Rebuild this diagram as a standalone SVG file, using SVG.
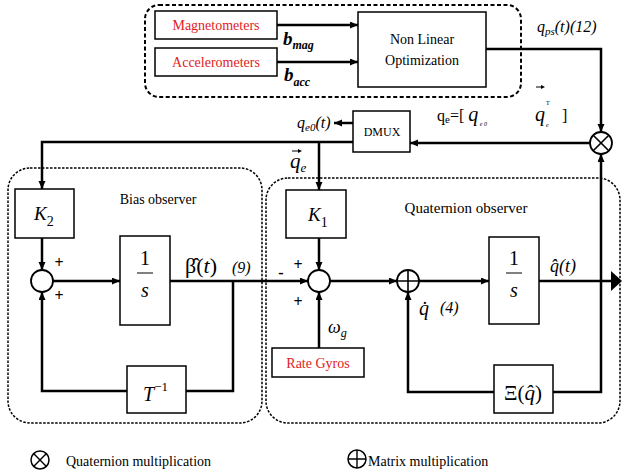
<svg xmlns="http://www.w3.org/2000/svg" width="622" height="475" viewBox="0 0 622 475" font-family="'Liberation Serif', 'DejaVu Serif', 'Noto Serif', serif">
<defs>
<marker id="ah" markerUnits="userSpaceOnUse" markerWidth="9" markerHeight="8" refX="8" refY="3.5" orient="auto">
<path d="M0,0 L8,3.5 L0,7 z" fill="#000"/>
</marker>
</defs>
<style>
.box{fill:#fff;stroke:#000;stroke-width:1.5}
.dash1{fill:none;stroke:#000;stroke-width:2;stroke-dasharray:4 2.5}
.dash2{fill:none;stroke:#000;stroke-width:1.5;stroke-dasharray:2.5 1.5}
.wire{fill:none;stroke:#000;stroke-width:2.5}
.arr{marker-end:url(#ah)}
.circ{fill:#fff;stroke:#000;stroke-width:1.8}
text{font-family:'Liberation Serif','DejaVu Serif','Noto Serif',serif;fill:#000}
.red{fill:#e31b23;font-size:14px}
.lbl{font-size:14px}
.it{font-style:italic}
.mid{text-anchor:middle}
.sgn{font-size:16px;font-weight:bold;text-anchor:middle}
</style>

<g id="containers">
<rect class="dash1" x="145" y="5" width="376" height="92" rx="14"/>
<rect class="dash2" x="8" y="168" width="254" height="255" rx="22"/>
<rect class="dash2" x="266" y="178" width="354" height="245" rx="22"/>
<text class="lbl mid" x="158" y="204">Bias  observer</text>
<text class="lbl mid" x="466" y="213" style="font-size:15px">Quaternion observer</text>
</g>

<g id="connectors">
<path class="wire arr" d="M277 25 H358"/>
<path class="wire arr" d="M277 62 H358"/>
<path class="wire arr" d="M486 49 H601 V132"/>
<path class="wire arr" d="M590 143 H410"/>
<path class="wire arr" d="M353 123 H334"/>
<path class="wire arr" d="M353 142 H42 V189"/>
<path class="wire arr" d="M319 142 V190"/>
<path class="wire arr" d="M42 238 V270"/>
<path class="wire arr" d="M53 281 H120"/>
<path class="wire arr" d="M170 281 H308"/>
<path class="wire" d="M233 281 V391 H186"/>
<path class="wire arr" d="M127 391 H42 V292"/>
<path class="wire arr" d="M319 238 V270"/>
<path class="wire arr" d="M319 348 V292"/>
<path class="wire arr" d="M330 281 H397"/>
<path class="wire arr" d="M419 281 H489"/>
<path class="wire" d="M539 281 H612"/>
<polygon points="611,271 622,281 611,291" fill="#000"/>
<path class="wire arr" d="M494 392 H408 V292"/>
<path class="wire arr" d="M553 392 H601 V154"/>
</g>

<g id="magnetometers">
<rect class="box" x="155" y="11" width="122" height="28"/>
<text class="red mid" x="216" y="30">Magnetometers</text>
</g>
<g id="accelerometers">
<rect class="box" x="155" y="48" width="122" height="28"/>
<text class="red mid" x="216" y="67">Accelerometers</text>
</g>
<g id="nonlinear-optimization">
<rect class="box" x="358" y="12" width="128" height="75"/>
<text class="lbl mid" x="422" y="44">Non Linear</text>
<text class="lbl mid" x="422" y="65">Optimization</text>
</g>
<g id="dmux">
<rect class="box" x="353" y="111" width="57" height="41"/>
<text class="mid" x="382" y="136" style="font-size:12px">DMUX</text>
</g>
<g id="quaternion-mult">
<circle class="circ" cx="601" cy="143" r="11"/>
<path d="M593.2 135.2 L608.8 150.8 M608.8 135.2 L593.2 150.8" stroke="#000" stroke-width="1.6"/>
</g>
<g id="k2">
<rect class="box" x="15" y="189" width="59" height="49"/>
<text class="it" x="34" y="220" style="font-size:19px">K<tspan font-style="normal" font-size="14" dy="6">2</tspan></text>
</g>
<g id="sum1">
<circle class="circ" cx="42" cy="281" r="11"/>
</g>
<g id="integrator1">
<rect class="box" x="120" y="236" width="50" height="89"/>
<text class="mid" x="145" y="265" style="font-size:20px">1</text>
<line x1="137" y1="273" x2="153" y2="273" stroke="#000" stroke-width="1"/>
<text class="mid it" x="145" y="297" style="font-size:20px">s</text>
</g>
<g id="t-inverse">
<rect class="box" x="127" y="366" width="59" height="47"/>
<text class="it" x="143" y="401" style="font-size:20px">T<tspan font-style="normal" font-size="13" dy="-10">−1</tspan></text>
</g>
<g id="k1">
<rect class="box" x="286" y="190" width="60" height="48"/>
<text class="it" x="308" y="221" style="font-size:19px">K<tspan font-style="normal" font-size="14" dy="6">1</tspan></text>
</g>
<g id="sum2">
<circle class="circ" cx="319" cy="281" r="11"/>
</g>
<g id="matrix-mult">
<circle class="circ" cx="408" cy="281" r="11"/>
<path d="M397 281 H419 M408 270 V292" stroke="#000" stroke-width="1.6"/>
</g>
<g id="integrator2">
<rect class="box" x="489" y="237" width="50" height="87"/>
<text class="mid" x="514" y="265" style="font-size:20px">1</text>
<line x1="506" y1="273" x2="522" y2="273" stroke="#000" stroke-width="1"/>
<text class="mid it" x="514" y="297" style="font-size:20px">s</text>
</g>
<g id="xi">
<rect class="box" x="494" y="365" width="59" height="48"/>
<text class="mid" x="523" y="400" style="font-size:21px">Ξ(<tspan font-style="italic">q̂</tspan>)</text>
</g>
<g id="rate-gyros">
<rect class="box" x="272" y="348" width="92" height="29"/>
<text class="red mid" x="318" y="368">Rate Gyros</text>
</g>

<g id="labels">
<text x="283" y="45" style="font-size:19px;font-weight:bold;font-style:italic">b<tspan font-size="12" dy="4">mag</tspan></text>
<text x="284" y="81" style="font-size:19px;font-weight:bold;font-style:italic">b<tspan font-size="12" dy="5">acc</tspan></text>
<text class="it" x="537" y="32" style="font-size:16px">q<tspan font-size="11" dy="3">ps</tspan><tspan dy="-3">(t)(12)</tspan></text>
<text x="437" y="121" style="font-size:16px">q<tspan font-size="11" dy="2">e</tspan><tspan dy="-2">=[ </tspan><tspan font-style="italic" font-size="20">q</tspan><tspan font-style="italic" font-size="6" dy="5"> e 0</tspan></text>
<text class="it" x="535" y="121" style="font-size:20px">q</text>
<text x="546" y="105" style="font-size:6px">T</text>
<text class="it" x="546" y="127" style="font-size:6px">e</text>
<text x="562" y="121" style="font-size:16px">]</text>
<line x1="536" y1="87" x2="542" y2="87" stroke="#000" stroke-width="1"/>
<polygon points="541,85 545,87 541,89" fill="#000"/>
<text class="it" x="297" y="128" style="font-size:16px">q<tspan font-size="11" dy="3">e0</tspan><tspan dy="-3">(t)</tspan></text>
<text class="it" x="290" y="168" style="font-size:21px">q<tspan font-size="13" dy="4">e</tspan></text>
<line x1="292" y1="151" x2="299" y2="151" stroke="#000" stroke-width="1"/>
<polygon points="298,149 302,151 298,153" fill="#000"/>
<text x="59" y="268" class="sgn">+</text>
<text x="59" y="301" class="sgn">+</text>
<text x="185" y="273" style="font-size:22px">β̂(<tspan font-style="italic">t</tspan>)</text>
<text class="it" x="232" y="273" style="font-size:16px">(9)</text>
<text x="298" y="270" class="sgn">+</text>
<text x="298" y="307" class="sgn">+</text>
<text x="281" y="278" class="sgn">-</text>
<text class="it" x="328" y="333" style="font-size:18px">ω<tspan font-size="12" dy="4">g</tspan></text>
<text class="it" x="419" y="315" style="font-size:20px">q̇</text>
<text class="it" x="440" y="313" style="font-size:16px">(4)</text>
<text class="it" x="550" y="272" style="font-size:18px">q̂(t)</text>
</g>

<g id="legend">
<circle cx="40" cy="460" r="9" fill="#fff" stroke="#000" stroke-width="1.5"/>
<path d="M33.6 453.6 L46.4 466.4 M46.4 453.6 L33.6 466.4" stroke="#000" stroke-width="1.4"/>
<text class="lbl" x="66" y="466">Quaternion multiplication</text>
<circle cx="357" cy="459" r="9" fill="#fff" stroke="#000" stroke-width="1.5"/>
<path d="M348 459 H366 M357 450 V468" stroke="#000" stroke-width="1.4"/>
<text class="lbl" x="368" y="466">Matrix  multiplication</text>
</g>
</svg>
